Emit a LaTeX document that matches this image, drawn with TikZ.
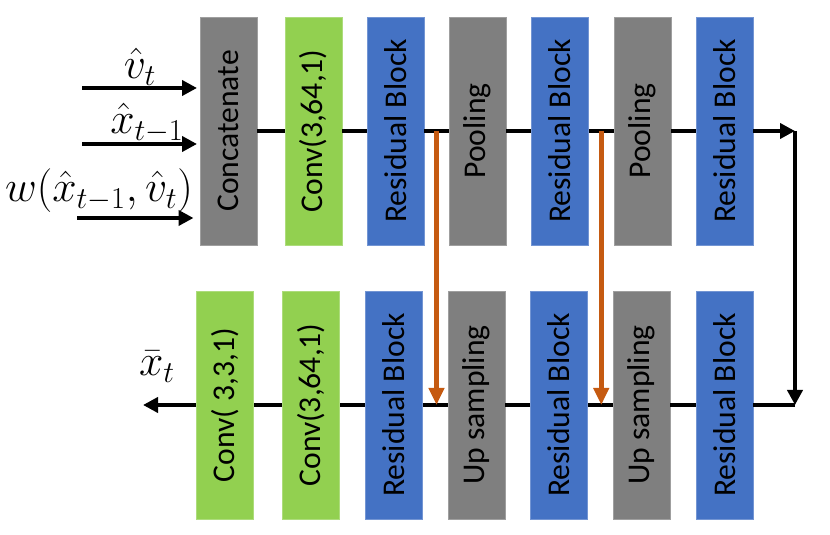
\documentclass[tikz,border=0pt]{standalone}
\usepackage[no-math]{fontspec}
\setmainfont{Carlito}
\usepackage{amsmath}
\usepackage{graphicx}
\usepackage{tikz}
\usetikzlibrary{arrows.meta,calc}
\definecolor{cgray}{HTML}{7F7F7F}
\definecolor{cgreen}{HTML}{92D050}
\definecolor{cblue}{HTML}{4472C4}
\definecolor{corange}{HTML}{C55A11}
\tikzset{
	blk/.style={minimum width=1.14cm, minimum height=4.56cm, inner sep=0pt, line width=0.4pt, font=\fontsize{18}{22}\selectfont},
	grayblk/.style={blk, fill=cgray, draw=cgray!75!white},
	greenblk/.style={blk, fill=cgreen, draw=cgreen!75!white},
	blueblk/.style={blk, fill=cblue, draw=cblue!75!white},
	line/.style={line width=2.2pt, black},
	flow/.style={line, -{Triangle[length=0.3cm, width=0.3cm]}},
	skip/.style={line width=2.6pt, corange, -{Triangle[length=0.34cm, width=0.3cm]}},
	lbl/.style={inner sep=0pt, font=\fontsize{24}{28}\selectfont}
}

\begin{document}
\begin{tikzpicture}
	\useasboundingbox (0,0) rectangle (16.6,10.68);
	\node[grayblk]  (cat)   at (4.57,8.06)  {\rotatebox{90}{Concatenate}};
	\node[greenblk] (c1)    at (6.27,8.06)  {\rotatebox{90}{Conv(3,64,1)}};
	\node[blueblk]  (rb1)   at (7.91,8.06)  {\rotatebox{90}{Residual Block}};
	\node[grayblk]  (pool1) at (9.55,8.06)  {\rotatebox{90}{Pooling}};
	\node[blueblk]  (rb2)   at (11.2,8.06)  {\rotatebox{90}{Residual Block}};
	\node[grayblk]  (pool2) at (12.85,8.06) {\rotatebox{90}{Pooling}};
	\node[blueblk]  (rb3)   at (14.49,8.06) {\rotatebox{90}{Residual Block}};
	\node[greenblk] (c3)    at (4.5,2.58)   {\rotatebox{90}{Conv( 3,3,1)}};
	\node[greenblk] (c2)    at (6.22,2.58)  {\rotatebox{90}{Conv(3,64,1)}};
	\node[blueblk]  (rb4)   at (7.88,2.58)  {\rotatebox{90}{Residual Block}};
	\node[grayblk]  (up1)   at (9.53,2.58)  {\rotatebox{90}{Up sampling}};
	\node[blueblk]  (rb5)   at (11.18,2.58) {\rotatebox{90}{Residual Block}};
	\node[grayblk]  (up2)   at (12.83,2.58) {\rotatebox{90}{Up sampling}};
	\node[blueblk]  (rb6)   at (14.49,2.58) {\rotatebox{90}{Residual Block}};

	\coordinate (in1) at (1.64,8.92);
	\coordinate (in2) at (1.64,7.8);
	\coordinate (in3) at (1.54,6.32);
	\coordinate (tr) at (15.9,8.06);
	\coordinate (br) at (15.9,2.58);
	\coordinate (out) at (2.86,2.58);
	\coordinate (s1) at ($(rb1.east)!0.5!(pool1.west)$);
	\coordinate (s2) at ($(rb2.east)!0.5!(pool2.west)$);

	\node[lbl] (lv) at (2.8,9.34) {$\hat{v}_t$};
	\node[lbl] (lx) at (2.94,8.22) {$\hat{x}_{t-1}$};
	\node[lbl] (lw) at (1.98,6.86) {$w(\hat{x}_{t-1},\hat{v}_t)$};
	\node[lbl] (lo) at (3.14,3.34) {$\bar{x}_t$};

	\draw[flow, shorten >=1.5pt] (in1) -- (in1 -| cat.west);
	\draw[flow, shorten >=1.5pt] (in2) -- (in2 -| cat.west);
	\draw[flow, shorten >=3.5pt] (in3) -- (in3 -| cat.west);
	\draw[line] (cat) -- (c1) -- (rb1) -- (pool1) -- (rb2) -- (pool2) -- (rb3);
	\draw[flow] (rb3) -- (tr);
	\draw[flow] (tr) -- (br);
	\draw[line] (br) -- (rb6) -- (up2) -- (rb5) -- (up1) -- (rb4) -- (c2) -- (c3);
	\draw[flow] (c3) -- (out);
	\draw[skip] (s1) -- (s1 |- rb4);
	\draw[skip] (s2) -- (s2 |- rb5);
\end{tikzpicture}
\end{document}
